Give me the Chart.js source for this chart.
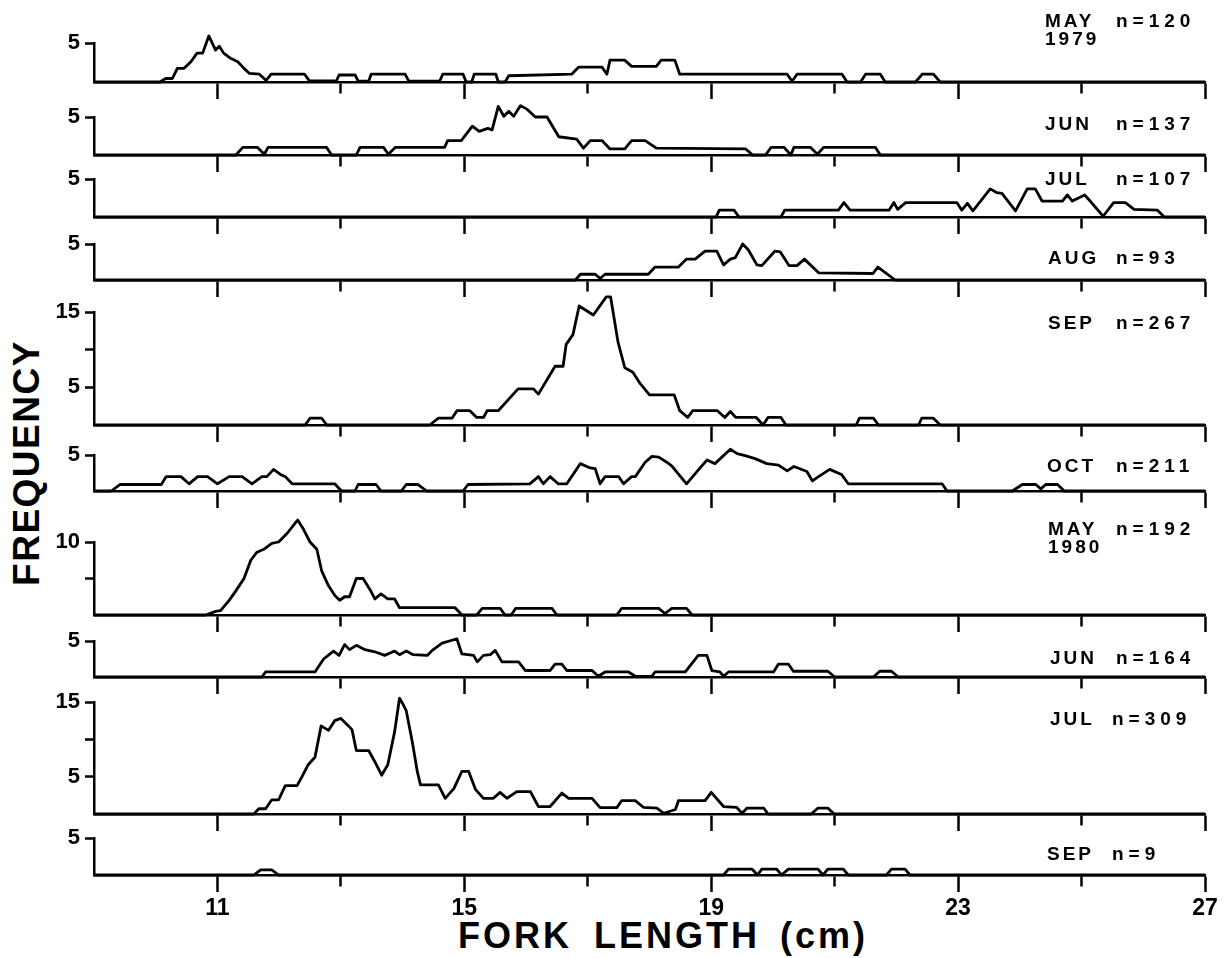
<!DOCTYPE html>
<html>
<head>
<meta charset="utf-8">
<title>Fork length frequency</title>
<script src="https://cdn.jsdelivr.net/npm/chart.js@4.4.0/dist/chart.umd.min.js"></script>
<style>
  html, body { margin: 0; padding: 0; background: #fff; }
  #page {
    position: relative; width: 1229px; height: 958px; overflow: hidden;
    font-family: "Liberation Sans", Arial, sans-serif; font-weight: bold; color: #000;
  }
  .panel { position: absolute; left: 0; }
  .panel canvas { display: block; }
  .month, .count { position: absolute; font-size: 19px; line-height: 18px; white-space: pre; }
  .month { letter-spacing: 3px; }
  .count { letter-spacing: 5px; }
  #ytitle {
    position: absolute; left: 27px; top: 463px; font-size: 37px; letter-spacing: 1.5px;
    transform: translate(-50%, -50%) rotate(-90deg); white-space: nowrap;
  }
  #xtitle {
    position: absolute; left: 458px; top: 918px; font-size: 36px; line-height: 36px;
    letter-spacing: 3px; word-spacing: 9px; white-space: nowrap;
  }
  #xtitle span { margin-left: 20px; }
</style>
</head>
<body>
<div id="page">
  <div id="ytitle">FREQUENCY</div>
  <div id="xtitle">FORK LENGTH<span>(cm)</span></div>
</div>
<script>
// fork length axis (cm)
const lengthMin = 9;
const lengthMax = 27;
const lengthTicks = [11, 13, 15, 17, 19, 21, 23, 25, 27];
const lengthLabels = [11, 15, 19, 23, 27];

// panel labels
const months = ['MAY\n1979', 'JUN', 'JUL', 'AUG', 'SEP', 'OCT', 'MAY\n1980', 'JUN', 'JUL', 'SEP'];
const sampleSizes = [120, 137, 107, 93, 267, 211, 192, 164, 309, 9];

// frequency ticks per panel (top value is the axis top)
const freqTicks = [[5], [5], [5], [5], [5, 10, 15], [5], [5, 10], [5], [5, 10, 15], [5]];
const freqLabels = [[5], [5], [5], [5], [5, 15], [5], [10], [5], [5, 15], [5]];

// frequency polygons: [fork length cm, frequency]
const may79 = [[9,0],[10.07,0],[10.16,0.45],[10.27,0.45],[10.35,1.75],[10.46,1.75],[10.57,2.6],[10.67,3.7],[10.76,3.7],
  [10.86,5.9],[10.97,4.1],[11.03,4.6],[11.1,3.7],[11.22,3.0],[11.33,2.6],[11.43,1.75],[11.52,1.1],[11.68,1],[11.79,0.2],
  [11.87,1],[12.41,1],[12.49,0.15],[12.93,0.15],[12.97,0.9],[13.23,0.9],[13.28,0.1],[13.45,0.1],[13.49,1],[14.04,1],
  [14.1,0.1],[14.6,0.1],[14.65,1],[14.98,1],[15.03,0],[15.12,0],[15.16,1],[15.51,1],[15.55,0],[15.66,0],[15.72,0.8],
  [16.74,1],[16.85,1.9],[17.23,1.9],[17.31,1],[17.36,2.8],[17.6,2.8],[17.71,2.0],[18.11,2.0],[18.19,2.8],[18.41,2.8],
  [18.49,1],[20.23,1],[20.31,0.1],[20.39,1],[21.12,1],[21.2,0],[21.42,0],[21.5,1],[21.74,1],[21.82,0],[22.31,0],
  [22.42,1],[22.6,1],[22.71,0],[27,0]];
const jun79 = [[9,0],[11.3,0],[11.41,1],[11.65,1],[11.76,0.1],[11.82,1],[12.77,1],[12.85,0],[13.25,0],[13.31,1],[13.69,1],
  [13.77,0.1],[13.88,1],[14.68,1],[14.73,1.9],[14.95,1.9],[15.13,3.8],[15.24,3.1],[15.38,3.5],[15.45,3.3],[15.55,6.4],
  [15.64,5.1],[15.72,5.75],[15.8,5.1],[15.91,6.5],[16.02,6.0],[16.15,5.0],[16.34,5.0],[16.53,2.4],[16.82,2.1],[16.93,0.9],
  [17.04,1.9],[17.23,1.9],[17.36,0.8],[17.6,0.8],[17.71,1.9],[17.93,1.9],[18.11,0.9],[19.56,0.8],[19.67,0],[19.88,0],
  [19.97,1],[20.18,1],[20.29,0],[20.34,1],[20.61,1],[20.72,0.1],[20.82,1],[21.66,1],[21.74,0],[27,0]];
const jul79 = [[9,0],[19.08,0],[19.13,0.9],[19.37,0.9],[19.45,0],[20.13,0],[20.19,0.9],[21.06,0.9],[21.15,1.9],[21.25,0.9],
  [21.88,0.9],[21.96,1.9],[22.02,1.0],[22.15,1.9],[22.98,1.9],[23.06,0.9],[23.15,1.8],[23.24,0.8],[23.52,3.7],[23.63,3.2],
  [23.71,3.1],[23.93,0.8],[24.12,3.7],[24.25,3.7],[24.36,2.1],[24.69,2.1],[24.77,2.9],[24.85,2.1],[25.05,2.9],[25.15,2.0],
  [25.35,0.1],[25.52,1.9],[25.71,1.9],[25.85,1.0],[26.23,0.9],[26.34,0],[27,0]];
const aug79 = [[9,0],[16.8,0],[16.88,0.8],[17.12,0.8],[17.2,0.2],[17.28,0.8],[17.98,0.8],[18.09,1.8],[18.47,1.8],[18.6,2.9],
  [18.74,2.9],[18.9,4.0],[19.09,4.0],[19.2,2.1],[19.31,2.9],[19.39,3.1],[19.51,5.0],[19.6,4.2],[19.74,2.1],[19.82,2.0],
  [20.03,4.0],[20.12,3.9],[20.26,2.0],[20.39,2.0],[20.51,2.9],[20.74,1.0],[21.62,0.9],[21.7,1.8],[21.98,0],[27,0]];
const sep79 = [[9,0],[12.42,0],[12.5,0.9],[12.69,0.9],[12.77,0],[14.44,0],[14.58,0.9],[14.8,0.9],[14.88,1.9],[15.09,1.9],
  [15.2,1.0],[15.31,1.0],[15.37,1.9],[15.55,1.9],[15.87,4.8],[16.12,4.8],[16.2,4.1],[16.47,7.8],[16.6,7.8],[16.65,10.7],
  [16.76,12],[16.86,15.8],[17.09,14.6],[17.3,17],[17.37,17],[17.49,11],[17.6,7.6],[17.73,7.0],[17.84,5.6],[18.0,4.0],
  [18.4,4.0],[18.49,1.9],[18.62,1.0],[18.7,1.9],[19.1,1.9],[19.22,1.0],[19.31,1.8],[19.4,1.0],[19.73,1.0],[19.84,0],
  [19.92,1],[20.13,1],[20.21,0],[21.35,0],[21.4,0.9],[21.63,0.9],[21.71,0],[22.36,0],[22.41,0.9],[22.6,0.9],[22.71,0],[27,0]];
const oct79 = [[9,0],[9.28,0],[9.42,0.9],[10.09,0.9],[10.17,2.0],[10.41,2.0],[10.54,1.0],[10.68,2.0],[10.84,2.0],[11.0,1.0],
  [11.19,2.0],[11.4,2.0],[11.56,1.0],[11.72,2.0],[11.8,2.0],[11.91,3.0],[12.02,2.3],[12.1,2.0],[12.21,1.0],[12.9,1.0],
  [13.01,0],[13.23,0],[13.28,0.9],[13.57,0.9],[13.65,0],[13.98,0],[14.06,0.9],[14.25,0.9],[14.39,0],[14.98,0],[15.06,0.9],
  [16.06,1.0],[16.2,2.0],[16.28,1.0],[16.39,2.0],[16.52,1.0],[16.66,1.0],[16.88,3.8],[17.04,3.2],[17.12,3.1],[17.2,1.0],
  [17.28,2.0],[17.5,2.0],[17.58,1.0],[17.71,2.0],[17.77,2.0],[17.93,4.0],[18.04,4.8],[18.15,4.7],[18.28,4.0],[18.36,3.5],
  [18.6,1.0],[18.82,3.2],[18.93,4.3],[19.06,3.8],[19.31,5.8],[19.42,5.2],[19.55,4.9],[19.71,4.5],[19.9,3.8],[20.09,3.6],
  [20.23,2.8],[20.34,3.4],[20.55,2.7],[20.64,1.4],[20.72,1.9],[20.92,3.0],[21.11,2.3],[21.22,1.0],[22.74,1.0],[22.82,0],
  [23.88,0],[24.04,0.9],[24.26,0.9],[24.34,0.3],[24.42,0.9],[24.61,0.9],[24.72,0],[27,0]];
const may80 = [[9,0],[10.81,0],[10.97,0.5],[11.05,0.6],[11.19,2.0],[11.29,3.2],[11.43,5.0],[11.54,7.5],[11.64,8.6],[11.75,9.0],
  [11.8,9.3],[11.88,9.8],[11.99,10.0],[12.13,11.2],[12.26,12.6],[12.3,13.0],[12.39,11.8],[12.5,10.0],[12.61,9.0],[12.69,6.0],
  [12.8,4.0],[12.9,2.7],[12.98,2.0],[13.06,2.5],[13.14,2.5],[13.25,5.0],[13.36,5.0],[13.47,3.5],[13.55,2.2],[13.65,2.9],
  [13.76,2.2],[13.87,2.2],[13.95,1.0],[14.85,1.0],[14.96,0],[15.2,0],[15.29,0.9],[15.58,0.9],[15.66,0],[15.76,0],
  [15.83,0.9],[16.42,0.9],[16.5,0],[17.47,0],[17.55,0.9],[18.15,0.9],[18.25,0.2],[18.36,0.9],[18.6,0.9],[18.69,0],[27,0]];
const jun80 = [[9,0],[11.72,0],[11.78,0.7],[12.58,0.7],[12.72,2.5],[12.88,3.6],[12.97,3.0],[13.06,4.5],[13.14,3.8],[13.25,4.4],
  [13.39,3.8],[13.55,3.5],[13.71,3.0],[13.87,3.6],[13.95,3.1],[14.06,3.6],[14.17,3.1],[14.4,3.0],[14.48,3.7],[14.64,4.7],
  [14.8,5.1],[14.88,5.3],[14.96,3.2],[15.15,3.0],[15.21,2.1],[15.31,3.0],[15.42,3.1],[15.5,3.7],[15.61,2.1],[15.88,2.1],
  [15.99,0.9],[16.39,0.9],[16.47,1.8],[16.58,1.8],[16.66,0.9],[17.07,0.9],[17.17,0.1],[17.28,0.7],[17.66,0.7],[17.77,0.1],
  [18.04,0.1],[18.09,0.7],[18.58,0.7],[18.79,3.0],[18.93,3.0],[19.01,0.9],[19.14,0.7],[19.2,0.1],[19.28,0.7],[20.01,0.7],
  [20.09,1.8],[20.25,1.8],[20.33,0.8],[20.89,0.8],[21.0,0],[21.63,0],[21.73,0.8],[21.92,0.8],[22.03,0],[27,0]];
const jul80 = [[9,0],[11.59,0],[11.67,0.7],[11.78,0.7],[11.88,1.9],[11.99,1.9],[12.1,3.8],[12.29,3.8],[12.37,5.0],[12.47,6.6],
  [12.58,7.6],[12.68,11.8],[12.8,11.2],[12.9,12.5],[13.0,12.8],[13.11,11.9],[13.18,11.3],[13.25,8.5],[13.45,8.5],[13.55,7.0],
  [13.66,5.2],[13.76,6.6],[13.87,11.0],[13.95,15.5],[14.0,14.8],[14.06,13.8],[14.16,9.5],[14.24,5.6],[14.29,3.9],[14.58,3.9],
  [14.69,2.1],[14.83,3.4],[14.96,5.7],[15.07,5.7],[15.18,3.3],[15.31,2.1],[15.47,2.1],[15.58,2.9],[15.69,2.1],[15.85,3.0],
  [16.07,3.0],[16.2,1.0],[16.39,1.0],[16.58,2.8],[16.69,2.1],[17.07,2.1],[17.2,0.85],[17.47,0.85],[17.55,1.8],[17.77,1.8],
  [17.9,0.9],[18.12,0.8],[18.23,0.1],[18.42,0.6],[18.47,1.8],[18.9,1.8],[19.0,2.9],[19.2,1.0],[19.41,0.9],[19.5,0.1],
  [19.58,0.8],[19.85,0.8],[19.92,0],[20.62,0],[20.73,0.8],[20.89,0.8],[20.99,0],[27,0]];
const sep80 = [[9,0],[11.59,0],[11.7,0.7],[11.88,0.7],[11.99,0],[19.2,0],[19.28,0.8],[19.66,0.8],[19.75,0],[19.82,0.8],
  [20.06,0.8],[20.14,0],[20.25,0.8],[20.73,0.8],[20.81,0],[20.89,0.8],[21.14,0.8],[21.22,0],[21.84,0],[21.92,0.8],
  [22.14,0.8],[22.22,0],[27,0]];

const series = [may79, jun79, jul79, aug79, sep79, oct79, may80, jun80, jul80, sep80];

// layout (pixels): top tick and baseline of each panel, label positions
const panelTop = [43, 117, 179, 244, 312, 455, 542, 641, 702, 838];
const panelBase = [82, 155, 217, 280, 425, 491, 615, 677, 814, 875];
const labelTop = [15, 118, 173, 252, 317, 460, 523, 652, 713, 848];
const monthLeft = [1045, 1045, 1045, 1048, 1048, 1047, 1048, 1050, 1050, 1047];
const countLeft = [1116, 1116, 1116, 1116, 1116, 1116, 1116, 1116, 1112, 1112];

const PAD_TOP = 30;
const fontFamily = "'Liberation Sans', Arial, sans-serif";
const page = document.getElementById('page');

function addLabel(cls, text, left, capTop) {
    const el = document.createElement('div');
    el.className = cls;
    el.textContent = text;
    el.style.left = left + 'px';
    el.style.top = (capTop - 3) + 'px';
    page.appendChild(el);
}

series.forEach(function (pts, i) {
    const last = i === series.length - 1;
    const axisH = last ? 50 : 20;
    const height = PAD_TOP + (panelBase[i] - panelTop[i]) + axisH;

    const wrap = document.createElement('div');
    wrap.className = 'panel';
    wrap.style.top = (panelTop[i] - PAD_TOP) + 'px';
    const canvas = document.createElement('canvas');
    canvas.width = 1229;
    canvas.height = height;
    wrap.appendChild(canvas);
    page.appendChild(wrap);

    const yTicks = freqTicks[i];

    new Chart(canvas, {
        type: 'line',
        data: {
            datasets: [{
                data: pts.map(p => ({ x: p[0], y: p[1] })),
                borderColor: '#000',
                borderWidth: 2.8,
                borderJoinStyle: 'round',
                pointRadius: 0,
                tension: 0,
                fill: false,
                clip: false
            }]
        },
        options: {
            responsive: false,
            animation: false,
            events: [],
            layout: { padding: { top: PAD_TOP, right: 24, bottom: 0, left: 0 } },
            plugins: { legend: { display: false }, tooltip: { enabled: false } },
            scales: {
                x: {
                    type: 'linear',
                    min: lengthMin,
                    max: lengthMax,
                    afterBuildTicks: s => { s.ticks = lengthTicks.map(v => ({ value: v })); },
                    afterFit: s => { s.height = axisH; },
                    border: { display: true, color: '#000', width: 2.5 },
                    grid: {
                        drawOnChartArea: false,
                        tickLength: 17,
                        tickWidth: 2.5,
                        tickColor: '#000',
                        // minor ticks are short
                        tickBorderDash: c => (c.tick && lengthLabels.includes(c.tick.value)) ? [] : [10, 40]
                    },
                    ticks: {
                        display: last,
                        autoSkip: false,
                        maxRotation: 0,
                        padding: 3,
                        color: '#000',
                        font: { family: fontFamily, size: 23, weight: 'bold' },
                        callback: v => lengthLabels.includes(v) ? String(v) : ''
                    }
                },
                y: {
                    min: 0,
                    max: yTicks[yTicks.length - 1],
                    afterBuildTicks: s => { s.ticks = yTicks.map(v => ({ value: v })); },
                    afterFit: s => { s.width = 94; },
                    border: { display: true, color: '#000', width: 2.5 },
                    grid: { drawOnChartArea: false, tickLength: 9, tickWidth: 2.5, tickColor: '#000' },
                    ticks: {
                        autoSkip: false,
                        padding: 5,
                        color: '#000',
                        font: { family: fontFamily, size: 22, weight: 'bold' },
                        callback: v => freqLabels[i].includes(v) ? String(v) : ''
                    }
                }
            }
        }
    });

    addLabel('month', months[i], monthLeft[i], labelTop[i]);
    addLabel('count', 'n=' + sampleSizes[i], countLeft[i], labelTop[i]);
});
</script>
</body>
</html>
